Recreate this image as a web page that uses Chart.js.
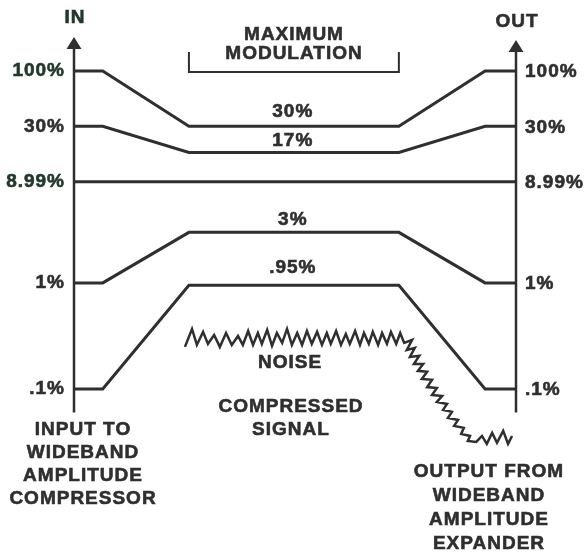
<!DOCTYPE html>
<html>
<head>
<meta charset="utf-8">
<script src="https://cdn.jsdelivr.net/npm/chart.js@4.4.1/dist/chart.umd.min.js"></script>
<style>
  html, body { margin: 0; padding: 0; background: #fff; }
  #wrap { width: 584px; height: 557px; }
</style>
</head>
<body>
<div id="wrap"><canvas id="myChart" width="584" height="557"></canvas></div>
<script>
// stage positions along the signal path (0 = input axis, 100 = output axis)
var stageX = [0, 6.5, 26, 73.5, 93, 100];

// level of each tone in percent of full modulation, per stage
var level100 = [100, 100, 30, 30, 100, 100];
var level30 = [30, 30, 17, 17, 30, 30];
var level899 = [8.99, 8.99, 8.99, 8.99, 8.99, 8.99];
var level1 = [1, 1, 3, 3, 1, 1];
var level01 = [0.1, 0.1, 0.95, 0.95, 0.1, 0.1];

// labels on the IN / OUT axes
var tickValues = [100, 30, 8.99, 1, 0.1];
var tickLabels = ['100%', '30%', '8.99%', '1%', '.1%'];

// labels of the compressed levels in the middle
var midValues = [30, 17, 3, 0.95];
var midLabels = ['30%', '17%', '3%', '.95%'];

// noise floor
var noiseX = [25.1, 26.7, 27.8, 29.2, 30.3, 31.7, 33.0, 34.4, 35.7, 37.1,
  38.2, 39.4, 40.5, 41.6, 42.5, 43.7, 44.8, 45.9, 47.1, 48.2,
  49.3, 50.5, 51.6, 52.7, 53.8, 55.0, 56.1, 57.2, 58.1, 59.3,
  60.4, 61.5, 62.4, 63.6, 64.7, 65.6, 66.7, 67.6, 68.8, 69.7,
  70.8, 71.7, 72.9, 73.8, 74.7,
  76.5, 75.3, 77.1, 76.0, 78.1, 76.9, 79.0, 77.8, 79.9, 78.7,
  81.0, 79.9, 82.1, 81.0, 83.3, 82.1, 84.4, 83.5, 85.5, 84.6,
  86.9, 86.0, 88.2, 87.6, 89.6, 89.1, 91.0, 92.3, 93.4, 94.6,
  95.7, 97.1, 98.2, 99.1];
var noiseY = [0.249, 0.368, 0.260, 0.345, 0.266, 0.323, 0.249, 0.337, 0.260, 0.316,
  0.260, 0.352, 0.260, 0.337, 0.266, 0.360, 0.255, 0.337, 0.272, 0.368,
  0.260, 0.337, 0.260, 0.352, 0.266, 0.345, 0.260, 0.337, 0.266, 0.352,
  0.260, 0.330, 0.266, 0.352, 0.260, 0.337, 0.266, 0.345, 0.260, 0.337,
  0.266, 0.345, 0.266, 0.337, 0.272,
  0.290, 0.233, 0.244, 0.200, 0.205, 0.172, 0.172, 0.148, 0.145, 0.124,
  0.122, 0.104, 0.102, 0.0877, 0.0859, 0.0754, 0.0722, 0.0634, 0.0607, 0.0532,
  0.0510, 0.0448, 0.0429, 0.0376, 0.0360, 0.0323, 0.0316, 0.0360, 0.0303, 0.0385,
  0.0310, 0.0402, 0.0303, 0.0360];

var INK = '#2f2f2f';
var GREEN = '#21392c';
var FONT = 'bold 19px "Liberation Sans", Arial, sans-serif';

function pts(xs, ys) {
  return xs.map(function(x, i) { return {x: x, y: ys[i]}; });
}

function lineSet(xs, ys, width) {
  return {
    data: pts(xs, ys),
    showLine: true,
    borderColor: INK,
    borderWidth: width,
    pointRadius: 0,
    fill: false,
    clip: false
  };
}

// axes, arrows and all the wording are drawn on top of the lines
var diagram = {
  id: 'diagram',
  afterDraw: function(chart) {
    var c = chart.ctx;
    var xs = chart.scales.x, ys = chart.scales.y;
    var left = xs.getPixelForValue(0), right = xs.getPixelForValue(100);
    var bottom = ys.getPixelForValue(0.06);
    var top = chart.chartArea.top;

    function txt(s, x, y, align, color) {
      c.fillStyle = color || INK;
      c.strokeStyle = color || INK;
      c.lineWidth = 0.6;
      c.textAlign = align || 'center';
      c.textBaseline = 'middle';
      c.fillText(s, x, y);
      c.strokeText(s, x, y);
    }

    function axis(x, tipY) {
      c.strokeStyle = INK;
      c.lineWidth = 2.5;
      c.beginPath();
      c.moveTo(x, bottom);
      c.lineTo(x, tipY + 8);
      c.stroke();
      c.fillStyle = INK;
      c.beginPath();
      c.moveTo(x, tipY);
      c.lineTo(x - 7.5, tipY + 12);
      c.lineTo(x + 7.5, tipY + 12);
      c.closePath();
      c.fill();
    }

    c.save();
    axis(left, top - 2);
    axis(right, top + 1);

    c.font = FONT;
    c.letterSpacing = '1px';
    txt('IN', left + 1, 18, 'center', GREEN);
    txt('OUT', right + 1, 22);

    tickValues.forEach(function(v, i) {
      var y = ys.getPixelForValue(v);
      var col = (i === 0 || i === 2) ? GREEN : INK;
      txt(tickLabels[i], left - 9, y, 'right', col);
      txt(tickLabels[i], right + 9, y + 1, 'left');
    });

    var midX = xs.getPixelForValue(49.5);
    var lift = [15, 12, 13, 18];
    midValues.forEach(function(v, i) {
      txt(midLabels[i], midX, ys.getPixelForValue(v) - lift[i]);
    });

    // bracket over the maximum modulation stage
    var bx1 = xs.getPixelForValue(stageX[2]), bx2 = xs.getPixelForValue(stageX[3]);
    c.strokeStyle = INK;
    c.lineWidth = 2;
    c.beginPath();
    c.moveTo(bx1, 52);
    c.lineTo(bx1, 72);
    c.lineTo(bx2, 72);
    c.lineTo(bx2, 52);
    c.stroke();
    txt('MAXIMUM', 294, 35);
    txt('MODULATION', 294, 54);

    txt('NOISE', 290, 363);
    txt('COMPRESSED', 291, 407);
    txt('SIGNAL', 291, 430);

    ['INPUT TO', 'WIDEBAND', 'AMPLITUDE', 'COMPRESSOR'].forEach(function(s, i) {
      txt(s, 83, 430 + i * 23);
    });
    ['OUTPUT FROM', 'WIDEBAND', 'AMPLITUDE', 'EXPANDER'].forEach(function(s, i) {
      txt(s, 489, 472 + i * 24);
    });
    c.restore();
  }
};

var ctx = document.getElementById('myChart').getContext('2d');

var myChart = new Chart(ctx, {
  type: 'scatter',
  data: {
    datasets: [
      lineSet(stageX, level100, 3),
      lineSet(stageX, level30, 3),
      lineSet(stageX, level899, 3),
      lineSet(stageX, level1, 3),
      lineSet(stageX, level01, 3),
      lineSet(noiseX, noiseY, 2.5)
    ]
  },
  options: {
    responsive: false,
    animation: false,
    devicePixelRatio: 1,
    layout: { padding: { left: 74, right: 68, top: 39, bottom: 94 } },
    scales: {
      x: { type: 'linear', min: 0, max: 100, display: false },
      y: { type: 'logarithmic', min: 0.02, max: 200, bounds: 'data', display: false }
    },
    plugins: {
      legend: { display: false },
      tooltip: { enabled: false }
    }
  },
  plugins: [diagram]
});
</script>
</body>
</html>
